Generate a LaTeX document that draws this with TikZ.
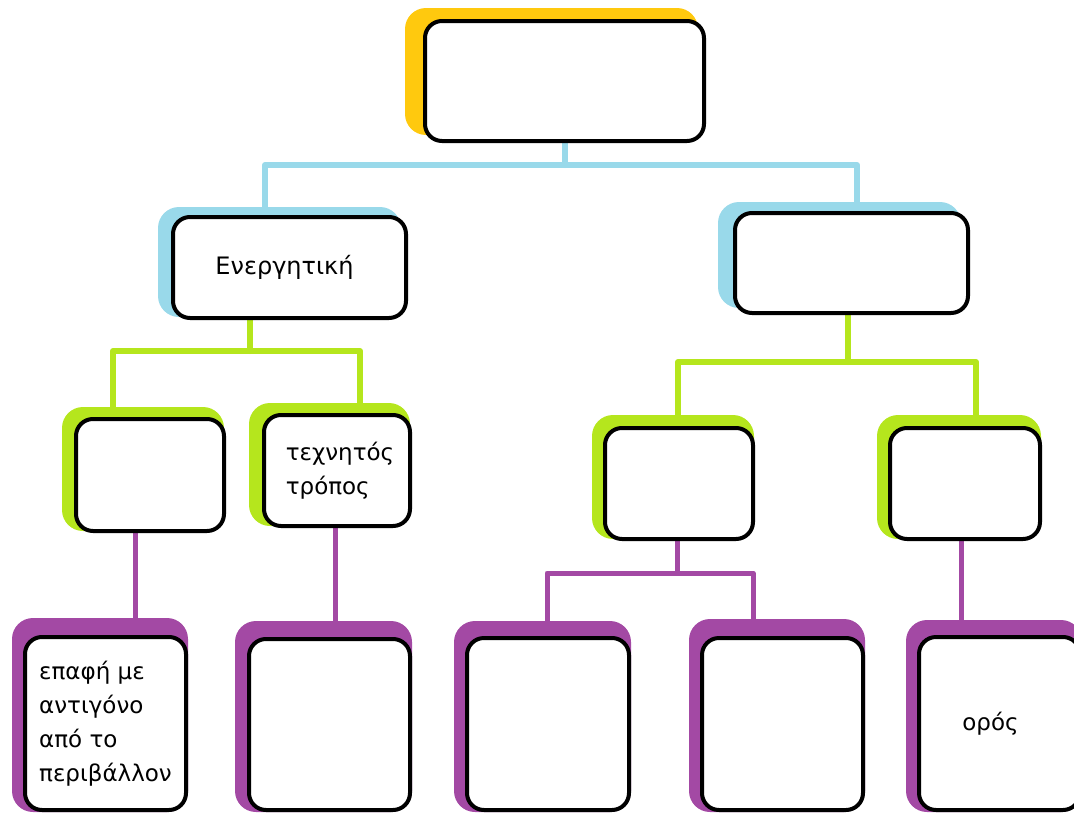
\documentclass[tikz,border=0pt]{standalone}
\usepackage{fontspec}
\setmainfont{DejaVu Sans}
\usetikzlibrary{backgrounds}
\definecolor{cyel}{RGB}{255,201,14}
\definecolor{cblu}{RGB}{153,217,234}
\definecolor{cgrn}{RGB}{181,230,29}
\definecolor{cpur}{RGB}{163,73,164}
\tikzset{
  box/.style={rectangle, draw=black, line width=4pt, fill=white, rounded corners=17pt,
    inner sep=0pt, align=left, font=\fontsize{23}{34}\selectfont},
  conn/.style={line width=6pt, draw=#1, line cap=round, line join=round},
  shade/.style={fill=#1, rounded corners=21pt},
}
\newcommand\shbox[6]{\fill[shade=#2] ([shift={(-#3,-#4)}]#1.north west) rectangle ([shift={(-#5,-#6)}]#1.south east);}
\begin{document}
\begin{tikzpicture}[x=1pt,y=-1pt]
\useasboundingbox (0,0) rectangle (1074,814);
\clip (0,0) rectangle (1074,814);
% junction coordinates
\coordinate (bjL) at (265,165);
\coordinate (bjR) at (857,165);
\coordinate (gjL) at (113,351);
\coordinate (gjR) at (360,351);
\coordinate (gjM) at (250,351);
\coordinate (hjL) at (678,362);
\coordinate (hjR) at (976,362);
\coordinate (hjM) at (848,362);
\coordinate (pjL) at (547,573);
\coordinate (pjR) at (753,573);
\coordinate (pjM) at (677,573);
% boxes
\node[box, minimum width=279pt, minimum height=120pt] (top) at (564.5,81) {};
\node[box, minimum width=233pt, minimum height=101pt, font=\fontsize{24}{34}\selectfont] (E) at (289.5,267.5) {Ενεργητική\hspace*{10pt}};
\node[box, minimum width=233pt, minimum height=100pt] (R) at (851.5,263) {};
\node[box, minimum width=148pt, minimum height=112pt] (L1) at (150,475) {};
\node[box, minimum width=146pt, minimum height=111pt] (L2) at (337,470.5) {\hspace*{6pt}τεχνητός\\\hspace*{6pt}τρόπος};
\node[box, minimum width=148pt, minimum height=111pt] (R1) at (679,483.5) {};
\node[box, minimum width=150pt, minimum height=111pt] (R2) at (965,483.5) {};
\node[box, minimum width=161pt, minimum height=173pt] (B1) at (105.5,723.5) {επαφή με\\αντιγόνο\\από το\\περιβάλλον};
\node[box, minimum width=161pt, minimum height=171pt] (B2) at (329.5,724.5) {};
\node[box, minimum width=162pt, minimum height=172pt] (B3) at (548,724) {};
\node[box, minimum width=161pt, minimum height=172pt] (B4) at (782.5,724) {};
\node[box, minimum width=161pt, minimum height=173pt] (B5) at (999.5,723.5) {ορός\hspace*{18pt}};
\begin{scope}[on background layer]
% shadows
\shbox{top}{cyel}{18}{11}{8}{8}
\shbox{E}{cblu}{13}{8}{7}{3}
\shbox{R}{cblu}{15}{9}{9}{7}
\shbox{L1}{cgrn}{12}{10}{2}{2}
\shbox{L2}{cgrn}{13}{10}{2}{2}
\shbox{R1}{cgrn}{11}{11}{1}{2}
\shbox{R2}{cgrn}{11}{11}{1}{2}
\shbox{B1}{cpur}{11}{17}{0}{0}
\shbox{B2}{cpur}{12}{16}{0}{0}
\shbox{B3}{cpur}{11}{15}{0}{0}
\shbox{B4}{cpur}{11}{17}{0}{0}
\shbox{B5}{cpur}{11}{15}{0}{0}
% connectors
\draw[conn=cblu] (top.south) -- (top.south |- bjL);
\draw[conn=cblu] (E.north -| bjL) -- (bjL) -- (bjR) -- (R.north -| bjR);
\draw[conn=cgrn] (E.south -| gjM) -- (gjM);
\draw[conn=cgrn] (L1.north -| gjL) -- (gjL) -- (gjR) -- (L2.north -| gjR);
\draw[conn=cgrn] (R.south -| hjM) -- (hjM);
\draw[conn=cgrn] (R1.north -| hjL) -- (hjL) -- (hjR) -- (R2.north -| hjR);
\draw[conn=cpur, line width=5pt] (L1.south -| 135,0) -- (B1.north -| 135,0);
\draw[conn=cpur, line width=5pt] (L2.south -| 335,0) -- (B2.north -| 335,0);
\draw[conn=cpur, line width=5pt] (R1.south -| pjM) -- (pjM);
\draw[conn=cpur, line width=5pt] (B3.north -| pjL) -- (pjL) -- (pjR) -- (B4.north -| pjR);
\draw[conn=cpur, line width=5pt] (R2.south -| 961,0) -- (B5.north -| 961,0);
\end{scope}
\end{tikzpicture}
\end{document}
